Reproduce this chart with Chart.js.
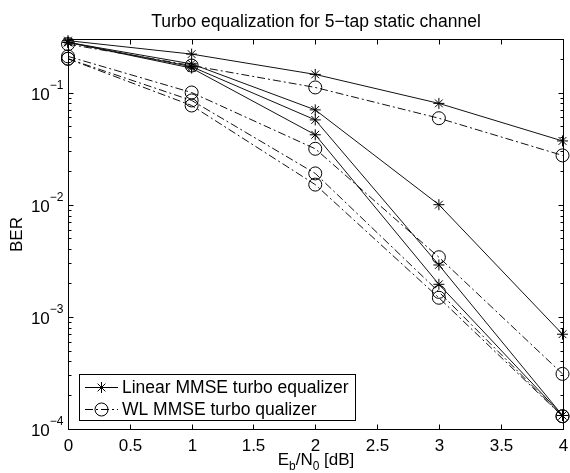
<!DOCTYPE html>
<html>
<head>
<meta charset="utf-8">
<script src="https://cdn.jsdelivr.net/npm/chart.js@4.4.1/dist/chart.umd.min.js"></script>
<style>
  body { margin: 0; background: #fff; }
  canvas { display: block; }
</style>
</head>
<body>
<canvas id="berChart" width="570" height="473"></canvas>
<script>
// Eb/N0 points
const snr = [0, 1, 2, 3, 4]
const xTicks = [0, 0.5, 1, 1.5, 2, 2.5, 3, 3.5, 4]
const yDecades = [-4, -3, -2, -1]

// Linear MMSE turbo equalizer (iterations 1..4)
const lin1 = [0.29, 0.22, 0.145, 0.080, 0.037]
const lin2 = [0.28, 0.18, 0.070, 0.010, 0.00070]
const lin3 = [0.28, 0.17, 0.057, 0.0029, 0.000132]
const lin4 = [0.28, 0.165, 0.042, 0.00195, 0.000132]

// WL MMSE turbo equalizer (iterations 1..4)
const wl1 = [0.27, 0.174, 0.111, 0.059, 0.0275]
const wl2 = [0.21, 0.10, 0.0315, 0.0034, 0.00031]
const wl3 = [0.20, 0.085, 0.019, 0.00167, 0.00013]
const wl4 = [0.20, 0.0766, 0.0151, 0.00148, 0.00013]

const titleText = 'Turbo equalization for 5\u2212tap static channel'
const legendLabels = ['Linear MMSE turbo equalizer', 'WL MMSE turbo qualizer']

const FONT = '"Liberation Sans", Arial, Helvetica, sans-serif'
const DASHDOT = [8, 3, 2, 3]

function series(values, isWL) {
	return {
		data: values.map((v, i) => ({ x: snr[i], y: v })),
		borderColor: '#111',
		borderWidth: 1,
		borderDash: isWL ? DASHDOT : [],
		pointStyle: isWL ? 'circle' : 'star',
		pointRadius: isWL ? 6.5 : 5.5,
		pointBorderWidth: 1,
		pointBorderColor: '#000',
		pointBackgroundColor: 'rgba(0,0,0,0)',
		tension: 0,
		fill: false,
		clip: false,
	}
}

// draws the matlab style box, ticks, labels, title and legend
const matlabAxes = {
	id: 'matlabAxes',
	afterDraw(chart) {
		const ctx = chart.ctx
		const xs = chart.scales.x
		const ys = chart.scales.y
		const a = chart.chartArea
		const L = Math.round(a.left) + 0.5
		const R = Math.round(a.right) + 0.5
		const T = Math.round(a.top) + 0.5
		const B = Math.round(a.bottom) + 0.5

		ctx.save()
		ctx.strokeStyle = '#000'
		ctx.lineWidth = 1
		ctx.setLineDash([])
		ctx.strokeRect(L, T, R - L, B - T)

		// x ticks, bottom and top
		ctx.fillStyle = '#000'
		ctx.font = '17px ' + FONT
		ctx.textAlign = 'center'
		ctx.textBaseline = 'alphabetic'
		xTicks.forEach(t => {
			const px = Math.round(xs.getPixelForValue(t)) + 0.5
			ctx.beginPath()
			ctx.moveTo(px, B); ctx.lineTo(px, B - 5)
			ctx.moveTo(px, T); ctx.lineTo(px, T + 5)
			ctx.stroke()
			ctx.fillText(String(t), px, B + 21)
		})

		// y ticks, log decades + minors
		yDecades.forEach(d => {
			for (let k = 1; k <= 9; k++) {
				const v = k * Math.pow(10, d)
				if (v > ys.max * 1.0001) break
				const py = Math.round(ys.getPixelForValue(v)) + 0.5
				const len = k === 1 ? 5 : 3
				ctx.beginPath()
				ctx.moveTo(L, py); ctx.lineTo(L + len, py)
				ctx.moveTo(R, py); ctx.lineTo(R - len, py)
				ctx.stroke()
			}
			const py = ys.getPixelForValue(Math.pow(10, d))
			ctx.textAlign = 'left'
			ctx.font = '12px ' + FONT
			const exp = '\u2212' + (-d)
			const ew = ctx.measureText(exp).width
			ctx.fillText(exp, L - 5 - ew, py - 4)
			ctx.font = '17px ' + FONT
			const bw = ctx.measureText('10').width
			ctx.fillText('10', L - 5 - ew - bw, py + 7)
		})

		// title
		ctx.font = '17.5px ' + FONT
		ctx.textAlign = 'center'
		ctx.fillText(titleText, (L + R) / 2, 27)

		// x label E_b/N_0 [dB]
		const parts = [['E', 0], ['b', 1], ['/N', 0], ['0', 1], [' [dB]', 0]]
		let total = 0
		parts.forEach(p => {
			ctx.font = (p[1] ? '12px ' : '17px ') + FONT
			total += ctx.measureText(p[0]).width
		})
		let cx = (L + R) / 2 - total / 2
		ctx.textAlign = 'left'
		parts.forEach(p => {
			ctx.font = (p[1] ? '12px ' : '17px ') + FONT
			ctx.fillText(p[0], cx, p[1] ? 470 : 465)
			cx += ctx.measureText(p[0]).width
		})

		// y label
		ctx.save()
		ctx.translate(22, (T + B) / 2)
		ctx.rotate(-Math.PI / 2)
		ctx.textAlign = 'center'
		ctx.font = '17px ' + FONT
		ctx.fillText('BER', 0, 0)
		ctx.restore()

		// legend box
		const lx = 79.5, ly = 374.5, lw = 276, lh = 46
		ctx.fillStyle = '#fff'
		ctx.fillRect(lx, ly, lw, lh)
		ctx.strokeRect(lx, ly, lw, lh)
		const rows = [387.5, 409.5]
		rows.forEach((ry, i) => {
			ctx.strokeStyle = '#000'
			ctx.beginPath()
			ctx.setLineDash(i ? DASHDOT : [])
			ctx.moveTo(85, ry); ctx.lineTo(118, ry)
			ctx.stroke()
			ctx.setLineDash([])
			ctx.fillStyle = 'rgba(0,0,0,0)'
			Chart.helpers.drawPoint(ctx, {
				pointStyle: i ? 'circle' : 'star',
				radius: i ? 6.5 : 5.5,
				borderWidth: 1,
			}, 101.5, ry)
			ctx.fillStyle = '#000'
			ctx.font = '17.5px ' + FONT
			ctx.textAlign = 'left'
			ctx.textBaseline = 'middle'
			ctx.fillText(legendLabels[i], 122, ry + 1)
			ctx.textBaseline = 'alphabetic'
		})
		ctx.restore()
	},
}

const ctxEl = document.getElementById('berChart').getContext('2d')
const berChart = new Chart(ctxEl, {
	type: 'line',
	data: {
		datasets: [
			series(lin1, false), series(lin2, false), series(lin3, false), series(lin4, false),
			series(wl1, true), series(wl2, true), series(wl3, true), series(wl4, true),
		],
	},
	options: {
		responsive: false,
		animation: false,
		layout: { padding: { left: 68, right: 6, top: 39, bottom: 44 } },
		scales: {
			x: { type: 'linear', min: 0, max: 4, display: false },
			y: { type: 'logarithmic', min: 1e-4, max: 0.3, display: false },
		},
		plugins: {
			legend: { display: false },
			title: { display: false },
			tooltip: { enabled: false },
		},
	},
	plugins: [matlabAxes],
})
</script>
</body>
</html>
